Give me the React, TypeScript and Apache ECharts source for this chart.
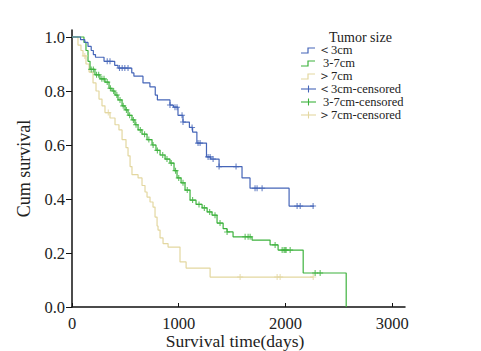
import React, { useEffect, useRef } from "react";
import * as echarts from "echarts";

const legendTitle = "Tumor size";
const groupNames = ["＜3cm", "3-7cm", "＞7cm"];
const colors = ["#4565b8", "#3db23d", "#e3d7a0"];
const xTitle = "Survival time(days)";

const xTicks = [0, 1000, 2000, 3000];
const yTicks = [0, 0.2, 0.4, 0.6, 0.8, 1.0];

// [day, survival after event]
const blueSteps: [number, number][] = [
  [0, 1.0], [80, 0.99], [120, 0.98], [150, 0.965], [180, 0.95], [200, 0.935], [220, 0.925],
  [300, 0.91], [400, 0.895], [431, 0.885], [560, 0.867], [580, 0.855], [665, 0.83],
  [730, 0.815], [780, 0.785], [800, 0.767], [918, 0.748], [950, 0.74], [993, 0.71],
  [1040, 0.685], [1100, 0.665], [1130, 0.648], [1170, 0.607], [1260, 0.556], [1300, 0.548],
  [1378, 0.52], [1593, 0.478], [1668, 0.44], [2034, 0.374], [2268, 0.374],
];
const blueCensor = [330, 356, 445, 470, 495, 525, 918, 965, 984, 1031, 1040, 1125, 1181, 1200,
  1275, 1294, 1322, 1378, 1537, 1715, 1734, 1781, 2109, 2138, 2259];

const greenSteps: [number, number][] = [
  [0, 1.0], [112, 0.98], [131, 0.95], [150, 0.91], [169, 0.88], [215, 0.86], [262, 0.845],
  [309, 0.833], [347, 0.81], [375, 0.8], [403, 0.785], [431, 0.767], [469, 0.745],
  [497, 0.73], [525, 0.71], [562, 0.693], [590, 0.675], [619, 0.656], [656, 0.64],
  [703, 0.62], [750, 0.6], [787, 0.58], [825, 0.563], [872, 0.548], [918, 0.533],
  [956, 0.505], [984, 0.478], [1022, 0.46], [1059, 0.433], [1106, 0.396], [1162, 0.38],
  [1219, 0.367], [1266, 0.352], [1312, 0.34], [1359, 0.311], [1416, 0.29], [1453, 0.278],
  [1509, 0.26], [1687, 0.248], [1856, 0.23], [1931, 0.211], [2166, 0.126], [2569, 0],
];
const greenCensor = [180, 200, 230, 250, 280, 300, 330, 360, 390, 420, 450, 480, 510, 540,
  575, 600, 640, 680, 720, 760, 800, 850, 890, 930, 970, 1000, 1040, 1080, 1130, 1190,
  1240, 1290, 1340, 1387, 1453, 1622, 1650, 1669, 1903, 1969, 1987, 1997, 2006, 2044,
  2278, 2325];

const beigeSteps: [number, number][] = [
  [0, 1.0], [56, 0.97], [84, 0.95], [103, 0.93], [131, 0.9], [160, 0.87], [197, 0.83],
  [225, 0.8], [253, 0.77], [281, 0.745], [309, 0.72], [356, 0.7], [403, 0.675],
  [440, 0.656], [469, 0.62], [506, 0.59], [525, 0.56], [544, 0.52], [562, 0.49],
  [619, 0.478], [656, 0.45], [684, 0.426], [703, 0.407], [731, 0.389], [759, 0.37],
  [778, 0.333], [797, 0.3], [806, 0.285], [825, 0.256], [853, 0.235], [900, 0.222],
  [1012, 0.167], [1069, 0.144], [1294, 0.111], [2260, 0.111],
];
const beigeCensor = [120, 340, 1575, 1922, 1950, 2260];

function survAt(steps: [number, number][], d: number) {
  let s = steps[0][1];
  for (const [t, v] of steps) {
    if (t <= d) s = v;
    else break;
  }
  return s;
}

const crossPath = "path://M5,0 L5,10 M0,5 L10,5";
const FONT = "'Liberation Serif', 'Times New Roman', serif";

export default function App() {
  const ref = useRef<HTMLDivElement>(null);
  useEffect(() => {
    if (!ref.current) return;
    const chart = echarts.init(ref.current, undefined, { renderer: "svg" });
    const stepSets = [blueSteps, greenSteps, beigeSteps];
    const censorSets = [blueCensor, greenCensor, beigeCensor];
    const series: any[] = [];
    stepSets.forEach((st, i) => {
      series.push({
        type: "line",
        step: "end",
        data: st,
        symbol: "none",
        lineStyle: { color: colors[i], width: 1.2 },
        z: 3 - i,
      });
    });
    censorSets.forEach((cs, i) => {
      series.push({
        type: "scatter",
        data: cs.map((d) => [d, survAt(stepSets[i], d)]),
        symbol: crossPath,
        symbolSize: 6,
        itemStyle: { color: "rgba(0,0,0,0)", borderColor: colors[i], borderWidth: 1.1 },
        z: 4 - i,
      });
    });

    const lx = 301;
    const rows = [50, 63, 76, 89, 102, 115];
    const graphics: any[] = [
      {
        type: "text",
        x: 329,
        y: 30,
        style: { text: legendTitle, font: `14px ${FONT}`, fill: "#222", lineHeight: 14 },
      },
      {
        type: "text",
        x: 235,
        y: 341,
        style: {
          text: xTitle,
          font: `17.5px ${FONT}`,
          fill: "#222",
          align: "center",
          verticalAlign: "middle",
        },
      },
    ];
    rows.forEach((y, k) => {
      const i = k % 3;
      if (k < 3) {
        graphics.push({
          type: "polyline",
          shape: { points: [[lx, y + 3], [lx + 7, y + 3], [lx + 7, y - 2], [lx + 14, y - 2]] },
          style: { stroke: colors[i], lineWidth: 1.2, fill: null },
        });
      } else {
        graphics.push({
          type: "line",
          shape: { x1: lx, y1: y, x2: lx + 15, y2: y },
          style: { stroke: colors[i], lineWidth: 1.1 },
        });
        graphics.push({
          type: "line",
          shape: { x1: lx + 7.5, y1: y - 3.5, x2: lx + 7.5, y2: y + 3.5 },
          style: { stroke: colors[i], lineWidth: 1.1 },
        });
      }
      const label = k < 3 ? groupNames[i] : groupNames[i] + "-censored";
      graphics.push({
        type: "text",
        x: i === 1 ? 323 : 318,
        y: y - 6,
        style: {
          text: label,
          font: `12.5px ${FONT}`,
          fill: "#222",
          lineHeight: 12,
        },
      });
    });

    chart.setOption({
      animation: false,
      textStyle: { fontFamily: FONT },
      grid: {
        left: 72,
        right: 76,
        top: 30,
        bottom: 44,
        containLabel: false,
        outerBoundsMode: "none",
      },
      xAxis: {
        type: "value",
        min: 0,
        max: 3120,
        axisLine: { lineStyle: { color: "#111", width: 1.5 } },
        axisTick: { inside: true, length: 4, customValues: xTicks, lineStyle: { color: "#111" } },
        axisLabel: {
          customValues: xTicks,
          fontFamily: FONT,
          fontSize: 16.5,
          color: "#222",
          margin: 8,
          formatter: (v: number) => String(v),
        },
        splitLine: { show: false },
      },
      yAxis: {
        type: "value",
        min: 0,
        max: 1.026,
        name: "Cum survival",
        nameLocation: "middle",
        nameGap: 33,
        nameTextStyle: { fontFamily: FONT, fontSize: 18, color: "#222" },
        axisLine: { show: true, lineStyle: { color: "#111", width: 1.5 } },
        axisTick: { show: true, length: 6, customValues: yTicks, lineStyle: { color: "#111" } },
        axisLabel: {
          customValues: yTicks,
          fontFamily: FONT,
          fontSize: 16.5,
          color: "#222",
          margin: 7,
          formatter: (v: number) => v.toFixed(1),
        },
        splitLine: { show: false },
      },
      graphic: graphics,
      series,
    });
    return () => chart.dispose();
  }, []);
  return (
    <div
      ref={ref}
      style={{ position: "absolute", left: 0, top: 0, width: 481, height: 351 }}
    />
  );
}
